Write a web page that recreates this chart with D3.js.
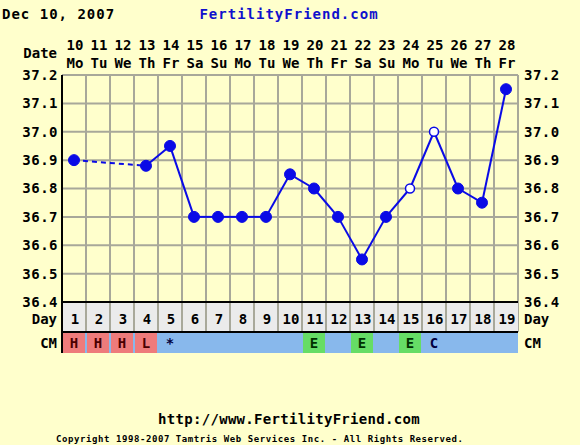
<!DOCTYPE html>
<html>
<head>
<meta charset="utf-8">
<script src="https://cdn.jsdelivr.net/npm/d3@7"></script>
<style>
  body { margin: 0; background: #ffffcc; }
  text { font-family: "DejaVu Sans Mono", monospace; font-weight: bold; }
</style>
</head>
<body>
<svg id="chart"></svg>
<script>
// Chart data
const chartDate = "Dec 10, 2007";
const dates = [10, 11, 12, 13, 14, 15, 16, 17, 18, 19, 20, 21, 22, 23, 24, 25, 26, 27, 28];
const weekdays = ["Mo", "Tu", "We", "Th", "Fr", "Sa", "Su", "Mo", "Tu", "We", "Th", "Fr", "Sa", "Su", "Mo", "Tu", "We", "Th", "Fr"];
const cycleDays = [1, 2, 3, 4, 5, 6, 7, 8, 9, 10, 11, 12, 13, 14, 15, 16, 17, 18, 19];
const temps = [36.9, null, null, 36.88, 36.95, 36.7, 36.7, 36.7, 36.7, 36.85, 36.8, 36.7, 36.55, 36.7, 36.8, 37.0, 36.8, 36.75, 37.15];
const openDays = [15, 16]; // hollow markers
const cm = ["H", "H", "H", "L", "*", "", "", "", "", "", "E", "", "E", "", "E", "C", "", "", ""];
const tempTicks = [36.4, 36.5, 36.6, 36.7, 36.8, 36.9, 37.0, 37.1, 37.2];

const W = 580, H = 445;
const plot = { left: 62, right: 518, top: 75, bottom: 302 };
const dayRowH = 30, cmRowH = 20;

const svg = d3.select("#chart").attr("width", W).attr("height", H);
svg.append("rect").attr("width", W).attr("height", H).attr("fill", "#ffffcc");

const x = d3.scaleBand().domain(cycleDays).range([plot.left, plot.right]);
const y = d3.scaleLinear().domain([36.4, 37.2]).range([plot.bottom, plot.top]);
const cx = d => x(d) + x.bandwidth() / 2;

// titles
svg.append("text").attr("x", 2).attr("y", 19).attr("font-size", 14)
  .attr("letter-spacing", 1).attr("fill", "#000").text(chartDate);
svg.append("text").attr("x", 289).attr("y", 19).attr("font-size", 14)
  .attr("letter-spacing", 1).attr("text-anchor", "middle").attr("fill", "#1010cc").text("FertilityFriend.com");

// date header
const header = svg.append("g");
header.append("text").attr("x", 57).attr("y", 58).attr("font-size", 14)
  .attr("text-anchor", "end").text("Date");
header.selectAll(".dnum").data(cycleDays).join("text")
  .attr("x", d => cx(d) + 1).attr("y", 50).attr("font-size", 14)
  .attr("text-anchor", "middle").text((d, i) => dates[i]);
header.selectAll(".wday").data(cycleDays).join("text")
  .attr("x", d => cx(d) + 1).attr("y", 68).attr("font-size", 14)
  .attr("text-anchor", "middle").text((d, i) => weekdays[i]);

// grid
const grid = svg.append("g");
grid.selectAll(".hl").data(tempTicks).join("line")
  .attr("x1", plot.left).attr("x2", plot.right)
  .attr("y1", d => y(d)).attr("y2", d => y(d))
  .attr("stroke", "#a8a89a").attr("stroke-width", 2);
grid.selectAll(".vl").data(cycleDays.slice(1).concat(["end"])).join("line")
  .attr("x1", (d, i) => plot.left + (i + 1) * x.bandwidth())
  .attr("x2", (d, i) => plot.left + (i + 1) * x.bandwidth())
  .attr("y1", plot.top).attr("y2", plot.bottom + dayRowH)
  .attr("stroke", "#a8a89a").attr("stroke-width", 2);

// y axis labels (left and right)
const axisL = d3.axisLeft(y).tickValues(tempTicks).tickSize(0).tickPadding(4).tickFormat(d3.format(".1f"));
const axisR = d3.axisRight(y).tickValues(tempTicks).tickSize(0).tickPadding(6).tickFormat(d3.format(".1f"));
const gl = svg.append("g").attr("transform", `translate(${plot.left},0)`).call(axisL);
const gr = svg.append("g").attr("transform", `translate(${plot.right},0)`).call(axisR);
[gl, gr].forEach(g => {
  g.select(".domain").remove();
  g.selectAll("text").attr("font-size", 14).attr("letter-spacing", 0.5)
    .attr("fill", "#000").attr("font-family", "DejaVu Sans Mono").attr("font-weight", "bold");
});

// day row
svg.append("rect").attr("x", plot.left).attr("y", plot.bottom)
  .attr("width", plot.right - plot.left).attr("height", dayRowH).attr("fill", "#ebebeb");
svg.append("g").selectAll("line").data(cycleDays.slice(1)).join("line")
  .attr("x1", d => x(d)).attr("x2", d => x(d))
  .attr("y1", plot.bottom).attr("y2", plot.bottom + dayRowH)
  .attr("stroke", "#a8a89a").attr("stroke-width", 2);
svg.append("g").selectAll("text").data(cycleDays).join("text")
  .attr("x", d => cx(d) + 1).attr("y", plot.bottom + 22).attr("font-size", 14)
  .attr("text-anchor", "middle").text(d => d);

// CM row
const cmTop = plot.bottom + dayRowH + 1;
const cmColor = v => (v === "H" || v === "L") ? "#ee7b7b" : (v === "E" ? "#66dd66" : "#88b8ec");
svg.append("rect").attr("x", plot.left).attr("y", cmTop)
  .attr("width", plot.right - plot.left).attr("height", cmRowH).attr("fill", "#88b8ec");
svg.append("g").selectAll("rect").data(cycleDays).join("rect")
  .attr("x", d => x(d) + 1).attr("y", cmTop)
  .attr("width", x.bandwidth() - 2).attr("height", cmRowH)
  .attr("fill", (d, i) => cmColor(cm[i]));
svg.append("g").selectAll("text").data(cycleDays).join("text")
  .attr("x", d => cx(d)).attr("y", cmTop + 15).attr("font-size", 14)
  .attr("text-anchor", "middle").attr("fill", (d, i) => cm[i] === "H" || cm[i] === "L" ? "#4a0000" : (cm[i] === "E" ? "#003000" : "#000040"))
  .text((d, i) => cm[i]);

// borders
svg.append("line").attr("x1", plot.left).attr("x2", plot.right)
  .attr("y1", plot.bottom).attr("y2", plot.bottom).attr("stroke", "#000").attr("stroke-width", 2);
svg.append("line").attr("x1", plot.left).attr("x2", plot.right)
  .attr("y1", plot.bottom + dayRowH).attr("y2", plot.bottom + dayRowH).attr("stroke", "#000").attr("stroke-width", 2);
svg.append("line").attr("x1", plot.left).attr("x2", plot.left)
  .attr("y1", plot.top).attr("y2", cmTop + cmRowH).attr("stroke", "#000").attr("stroke-width", 2);

// row labels
[["Day", plot.bottom + 22], ["CM", cmTop + 15]].forEach(([t, yy]) => {
  svg.append("text").attr("x", 57).attr("y", yy).attr("font-size", 14).attr("text-anchor", "end").text(t);
  svg.append("text").attr("x", 524).attr("y", yy).attr("font-size", 14).text(t);
});

// temperature line
const pts = cycleDays.map((d, i) => ({ day: d, t: temps[i] })).filter(p => p.t !== null);
const line = d3.line().x(p => cx(p.day)).y(p => y(p.t));
const lineG = svg.append("g");
for (let i = 1; i < pts.length; i++) {
  const a = pts[i - 1], b = pts[i];
  lineG.append("path").attr("d", line([a, b]))
    .attr("fill", "none").attr("stroke", "#0a0ae6").attr("stroke-width", 2)
    .attr("stroke-dasharray", b.day - a.day > 1 ? "5,4" : null);
}
svg.append("g").selectAll("circle").data(pts).join("circle")
  .attr("cx", p => cx(p.day)).attr("cy", p => y(p.t))
  .attr("r", p => openDays.includes(p.day) ? 4.5 : 5.5)
  .attr("fill", p => openDays.includes(p.day) ? "#ffffff" : "#0a0ae6")
  .attr("stroke", "#0a0ae6").attr("stroke-width", p => openDays.includes(p.day) ? 1.5 : 1);

// footer
svg.append("text").attr("x", 289).attr("y", 424).attr("font-size", 14).attr("letter-spacing", 0.3)
  .attr("text-anchor", "middle").text("http://www.FertilityFriend.com");
svg.append("text").attr("x", 56).attr("y", 442).attr("font-size", 9)
  .attr("textLength", 407).attr("lengthAdjust", "spacing")
  .text("Copyright 1998-2007 Tamtris Web Services Inc. - All Rights Reserved.");
</script>
</body>
</html>
